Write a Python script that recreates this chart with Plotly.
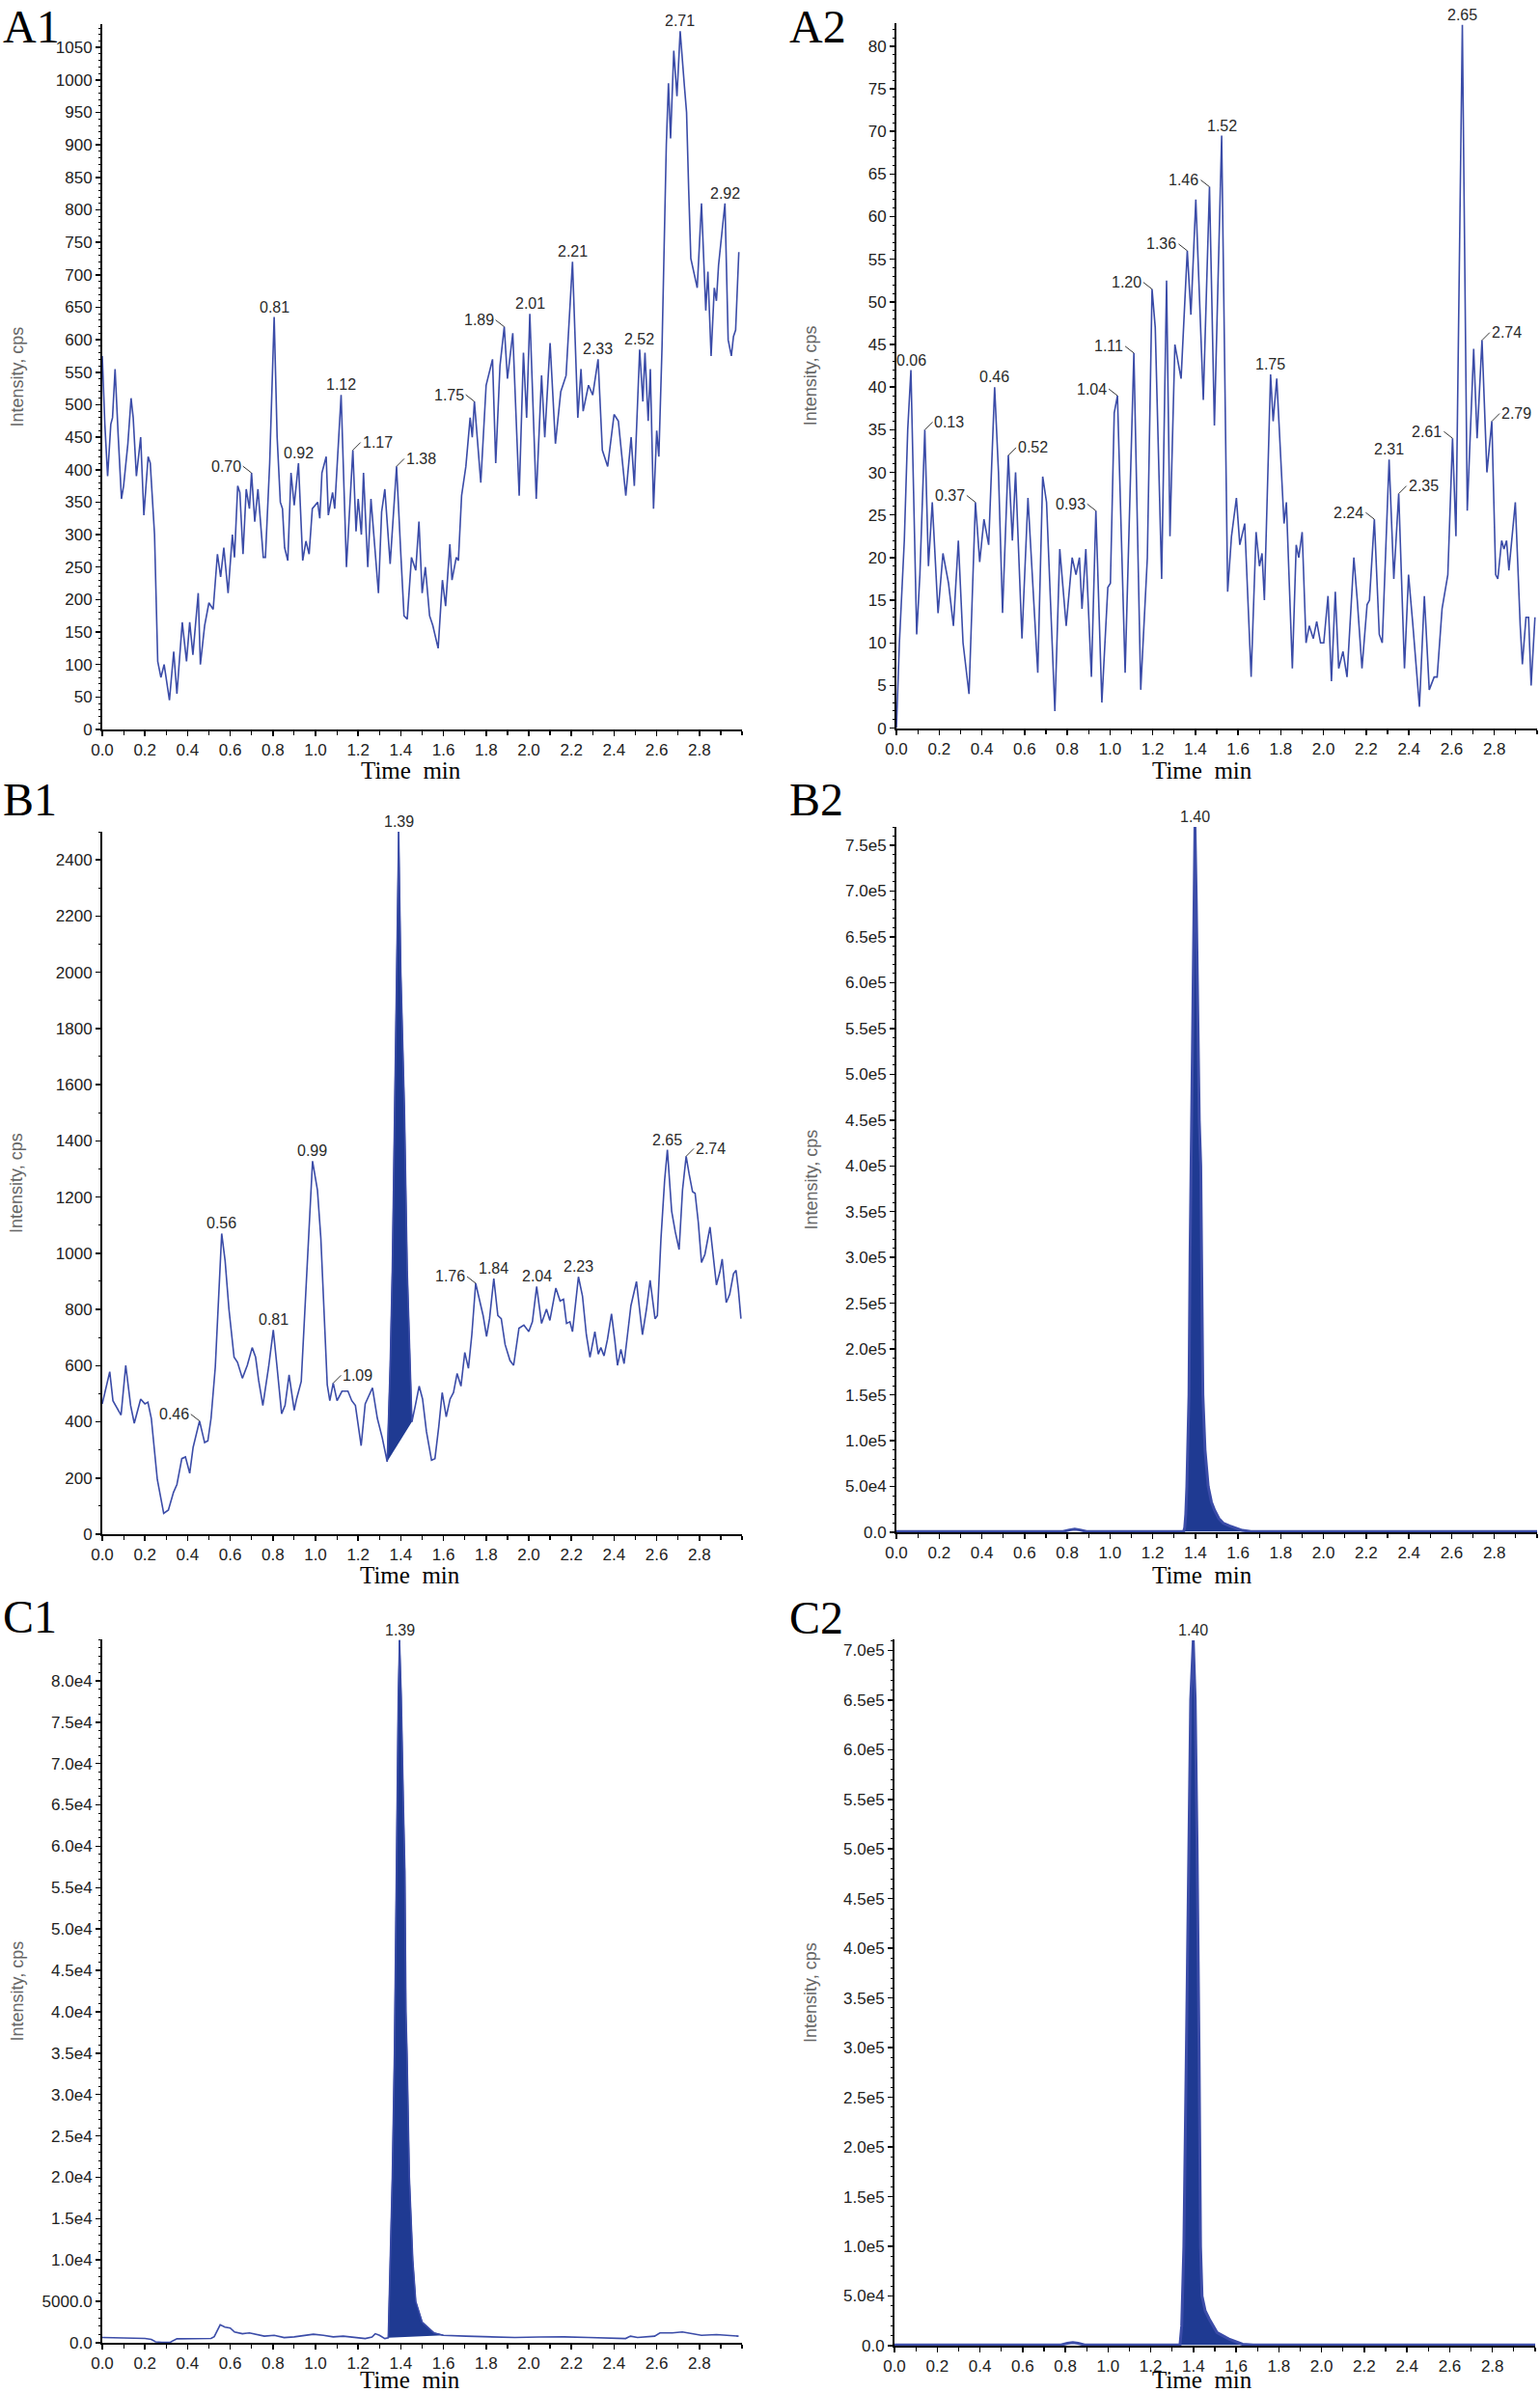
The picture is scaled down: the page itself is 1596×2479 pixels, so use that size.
import plotly.graph_objects as go

W, H = 1596, 2479

# ---------------- shared axis ticks ----------------
TIME_TICKS = [0.0, 0.2, 0.4, 0.6, 0.8, 1.0, 1.2, 1.4, 1.6, 1.8, 2.0, 2.2, 2.4, 2.6, 2.8]
TIME_TICK_TEXT = ["0.0", "0.2", "0.4", "0.6", "0.8", "1.0", "1.2", "1.4", "1.6", "1.8",
                  "2.0", "2.2", "2.4", "2.6", "2.8"]

A1_Y_TICKS = [0, 50, 100, 150, 200, 250, 300, 350, 400, 450, 500, 550, 600, 650, 700,
              750, 800, 850, 900, 950, 1000, 1050]
A1_Y_TEXT = ["0", "50", "100", "150", "200", "250", "300", "350", "400", "450", "500", "550",
             "600", "650", "700", "750", "800", "850", "900", "950", "1000", "1050"]
A2_Y_TICKS = [0, 5, 10, 15, 20, 25, 30, 35, 40, 45, 50, 55, 60, 65, 70, 75, 80]
A2_Y_TEXT = ["0", "5", "10", "15", "20", "25", "30", "35", "40", "45", "50", "55", "60",
             "65", "70", "75", "80"]
B1_Y_TICKS = [0, 200, 400, 600, 800, 1000, 1200, 1400, 1600, 1800, 2000, 2200, 2400]
B1_Y_TEXT = ["0", "200", "400", "600", "800", "1000", "1200", "1400", "1600", "1800",
             "2000", "2200", "2400"]
B2_Y_TICKS = [0, 5e4, 1e5, 1.5e5, 2e5, 2.5e5, 3e5, 3.5e5, 4e5, 4.5e5, 5e5, 5.5e5, 6e5,
              6.5e5, 7e5, 7.5e5]
B2_Y_TEXT = ["0.0", "5.0e4", "1.0e5", "1.5e5", "2.0e5", "2.5e5", "3.0e5", "3.5e5", "4.0e5",
             "4.5e5", "5.0e5", "5.5e5", "6.0e5", "6.5e5", "7.0e5", "7.5e5"]
C1_Y_TICKS = [0, 5000, 1e4, 1.5e4, 2e4, 2.5e4, 3e4, 3.5e4, 4e4, 4.5e4, 5e4, 5.5e4, 6e4,
              6.5e4, 7e4, 7.5e4, 8e4]
C1_Y_TEXT = ["0.0", "5000.0", "1.0e4", "1.5e4", "2.0e4", "2.5e4", "3.0e4", "3.5e4", "4.0e4",
             "4.5e4", "5.0e4", "5.5e4", "6.0e4", "6.5e4", "7.0e4", "7.5e4", "8.0e4"]
C2_Y_TICKS = [0, 5e4, 1e5, 1.5e5, 2e5, 2.5e5, 3e5, 3.5e5, 4e5, 4.5e5, 5e5, 5.5e5, 6e5,
              6.5e5, 7e5]
C2_Y_TEXT = ["0.0", "5.0e4", "1.0e5", "1.5e5", "2.0e5", "2.5e5", "3.0e5", "3.5e5", "4.0e5",
             "4.5e5", "5.0e5", "5.5e5", "6.0e5", "6.5e5", "7.0e5"]

# ---------------- A1 ----------------
A1_TIME = [0.000, 0.012, 0.025, 0.040, 0.048, 0.060, 0.075, 0.090, 0.100, 0.120, 0.135, 0.145,
           0.160, 0.180, 0.195, 0.215, 0.225, 0.245, 0.260, 0.275, 0.290, 0.315, 0.335, 0.350,
           0.375, 0.395, 0.410, 0.425, 0.450, 0.460, 0.480, 0.500, 0.520, 0.540, 0.555, 0.570,
           0.590, 0.610, 0.620, 0.635, 0.645, 0.660, 0.675, 0.690, 0.700, 0.715, 0.730, 0.755,
           0.765, 0.785, 0.806, 0.820, 0.835, 0.845, 0.855, 0.870, 0.885, 0.900, 0.920, 0.940,
           0.955, 0.970, 0.985, 1.010, 1.020, 1.030, 1.050, 1.060, 1.080, 1.090, 1.120, 1.145,
           1.175, 1.190, 1.200, 1.215, 1.225, 1.245, 1.260, 1.295, 1.310, 1.325, 1.350, 1.380,
           1.400, 1.415, 1.430, 1.450, 1.470, 1.485, 1.500, 1.515, 1.535, 1.550, 1.575, 1.595,
           1.610, 1.630, 1.640, 1.660, 1.670, 1.685, 1.705, 1.725, 1.735, 1.745, 1.775, 1.800,
           1.830, 1.845, 1.865, 1.885, 1.900, 1.925, 1.955, 1.975, 1.990, 2.005, 2.035, 2.060,
           2.075, 2.100, 2.125, 2.150, 2.175, 2.205, 2.230, 2.245, 2.255, 2.280, 2.300, 2.325,
           2.345, 2.370, 2.400, 2.420, 2.455, 2.480, 2.495, 2.520, 2.535, 2.545, 2.560, 2.570,
           2.585, 2.600, 2.610, 2.625, 2.645, 2.655, 2.665, 2.680, 2.695, 2.710, 2.730, 2.740,
           2.750, 2.760, 2.790, 2.810, 2.830, 2.840, 2.855, 2.870, 2.880, 2.890, 2.920, 2.935,
           2.950, 2.960, 2.970, 2.985]
A1_INT = [575, 470, 390, 470, 480, 555, 450, 355, 375, 440, 510, 480,
          390, 450, 330, 420, 410, 300, 105, 80, 100, 45, 120, 55,
          165, 105, 165, 115, 210, 100, 160, 195, 185, 270, 235, 280,
          210, 300, 265, 375, 365, 270, 370, 340, 395, 320, 370, 265,
          265, 410, 635, 450, 350, 340, 280, 260, 395, 345, 410, 260,
          290, 270, 340, 350, 325, 395, 420, 330, 365, 340, 515, 250,
          430, 305, 355, 300, 395, 250, 355, 210, 335, 370, 255, 405,
          270, 175, 170, 265, 245, 320, 210, 250, 175, 160, 125, 230,
          190, 285, 230, 265, 260, 360, 405, 480, 450, 505, 380, 530,
          570, 410, 560, 620, 540, 610, 360, 580, 480, 640, 355, 545,
          450, 595, 440, 520, 545, 720, 480, 555, 490, 530, 515, 570,
          430, 405, 485, 475, 360, 450, 375, 585, 505, 580, 475, 555,
          340, 460, 420, 590, 900, 995, 910, 1045, 975, 1075, 990, 950,
          830, 725, 680, 810, 645, 705, 575, 680, 660, 715, 810, 600,
          575, 605, 615, 735]
A1_LABELS = ["0.70", "0.81", "0.92", "1.12", "1.17", "1.38", "1.75", "1.89", "2.01", "2.21",
             "2.33", "2.52", "2.71", "2.92"]
A1_LABEL_T = [0.700, 0.806, 0.920, 1.120, 1.175, 1.380, 1.745, 1.885, 2.005, 2.205,
              2.325, 2.520, 2.710, 2.920]
A1_LABEL_V = [395, 635, 410, 515, 430, 405, 505, 620, 640, 720, 570, 585, 1075, 810]
A1_SIDES = ["L", "T", "T", "T", "R", "R", "L", "L", "T", "T", "T", "T", "T", "T"]

# ---------------- A2 ----------------
A2_TIME = [0.000, 0.014, 0.037, 0.053, 0.068, 0.095, 0.110, 0.133, 0.150, 0.168, 0.195, 0.218,
           0.244, 0.267, 0.290, 0.312, 0.340, 0.370, 0.390, 0.410, 0.432, 0.460, 0.478, 0.497,
           0.524, 0.543, 0.558, 0.588, 0.616, 0.640, 0.662, 0.685, 0.703, 0.742, 0.765, 0.795,
           0.823, 0.841, 0.857, 0.869, 0.887, 0.913, 0.934, 0.962, 0.990, 1.002, 1.020, 1.035,
           1.071, 1.112, 1.144, 1.175, 1.197, 1.212, 1.242, 1.265, 1.281, 1.304, 1.333, 1.362,
           1.379, 1.402, 1.437, 1.466, 1.489, 1.523, 1.551, 1.569, 1.592, 1.608, 1.631, 1.661,
           1.684, 1.700, 1.712, 1.723, 1.752, 1.764, 1.781, 1.803, 1.815, 1.826, 1.854, 1.872,
           1.884, 1.900, 1.918, 1.933, 1.952, 1.968, 1.986, 2.001, 2.021, 2.037, 2.055, 2.071,
           2.091, 2.110, 2.142, 2.158, 2.180, 2.204, 2.215, 2.238, 2.261, 2.275, 2.307, 2.329,
           2.352, 2.379, 2.398, 2.417, 2.449, 2.472, 2.495, 2.518, 2.532, 2.555, 2.582, 2.604,
           2.620, 2.650, 2.673, 2.703, 2.719, 2.742, 2.765, 2.788, 2.806, 2.816, 2.834, 2.845,
           2.857, 2.868, 2.898, 2.921, 2.931, 2.948, 2.960, 2.972, 2.990]
A2_INT = [0, 10, 22, 35, 42, 11, 18, 35, 19, 26.5, 13.5, 20.5,
          17, 12, 22, 10, 4, 26.5, 19.5, 24.5, 21.5, 40, 30, 13.5,
          32, 22, 30, 10.5, 27, 17, 6.5, 29.5, 26.5, 2, 21, 12,
          20, 18, 20, 14, 21, 6, 25.5, 3, 16.5, 17, 37, 39,
          6.5, 44, 4.5, 20, 51.5, 47, 17.5, 52.5, 22.5, 45, 41, 56,
          48.5, 62, 38.5, 63.5, 35.5, 69.5, 16, 22.5, 27, 21.5, 24, 6,
          23, 19, 20.5, 15, 41.5, 36, 41, 30, 24, 26.5, 7, 21.5,
          20, 23, 10, 12, 10.5, 12.5, 10, 10, 15.5, 5.5, 16, 7,
          9, 6, 20, 15, 7, 14.5, 15, 24.5, 11, 10, 31.5, 17.5,
          27.5, 7, 18, 12.5, 2.5, 15.5, 4.5, 6, 6, 14, 18, 34,
          22.5, 82.5, 25.5, 44.5, 34, 45.5, 30, 36, 18, 17.5, 22, 21,
          22, 18.5, 26.5, 12, 7.5, 13, 13, 5, 13]
A2_LABELS = ["0.06", "0.13", "0.37", "0.46", "0.52", "0.93", "1.04", "1.11", "1.20", "1.36",
             "1.46", "1.52", "1.75", "2.24", "2.31", "2.35", "2.61", "2.65", "2.74", "2.79"]
A2_LABEL_T = [0.068, 0.133, 0.370, 0.460, 0.524, 0.934, 1.035, 1.112, 1.197, 1.362,
              1.466, 1.523, 1.752, 2.238, 2.307, 2.352, 2.604, 2.650, 2.742, 2.788]
A2_LABEL_V = [42, 35, 26.5, 40, 32, 25.5, 39, 44, 51.5, 56,
              63.5, 69.5, 41.5, 24.5, 31.5, 27.5, 34, 82.5, 45.5, 36]
A2_SIDES = ["T", "R", "L", "T", "R", "L", "L", "L", "L", "L",
            "L", "T", "T", "L", "T", "R", "L", "T", "R", "R"]

# ---------------- B1 ----------------
B1_TIME = [0.000, 0.012, 0.035, 0.050, 0.088, 0.110, 0.133, 0.150, 0.180, 0.200, 0.214, 0.230,
           0.258, 0.288, 0.310, 0.334, 0.350, 0.373, 0.390, 0.410, 0.426, 0.456, 0.480, 0.495,
           0.510, 0.530, 0.546, 0.560, 0.576, 0.594, 0.618, 0.634, 0.657, 0.680, 0.703, 0.719,
           0.733, 0.753, 0.780, 0.802, 0.818, 0.841, 0.857, 0.876, 0.900, 0.911, 0.933, 0.956,
           0.986, 1.009, 1.025, 1.055, 1.067, 1.083, 1.101, 1.124, 1.152, 1.170, 1.187, 1.214,
           1.233, 1.267, 1.290, 1.313, 1.336, 1.350, 1.360, 1.371, 1.380, 1.390, 1.400, 1.417,
           1.430, 1.452, 1.468, 1.486, 1.502, 1.520, 1.544, 1.560, 1.578, 1.594, 1.613, 1.631,
           1.647, 1.664, 1.682, 1.700, 1.717, 1.733, 1.751, 1.770, 1.786, 1.802, 1.816, 1.836,
           1.855, 1.871, 1.889, 1.912, 1.929, 1.954, 1.977, 2.000, 2.017, 2.037, 2.060, 2.083,
           2.099, 2.127, 2.147, 2.163, 2.177, 2.193, 2.205, 2.233, 2.252, 2.270, 2.287, 2.310,
           2.326, 2.338, 2.353, 2.369, 2.388, 2.404, 2.416, 2.432, 2.447, 2.463, 2.479, 2.505,
           2.521, 2.533, 2.552, 2.569, 2.592, 2.603, 2.620, 2.637, 2.650, 2.670, 2.687, 2.705,
           2.721, 2.738, 2.752, 2.768, 2.780, 2.795, 2.810, 2.826, 2.850, 2.863, 2.880, 2.896,
           2.907, 2.926, 2.942, 2.960, 2.972, 2.983, 2.995]
B1_INT = [464, 504, 578, 475, 424, 601, 458, 395, 481, 464, 470, 412,
          195, 74, 86, 149, 177, 269, 275, 217, 309, 403, 326, 332,
          412, 595, 847, 1070, 973, 801, 630, 612, 555, 601, 664, 630,
          549, 458, 595, 727, 607, 429, 458, 567, 441, 481, 544, 904,
          1328, 1225, 1053, 532, 475, 538, 475, 509, 509, 475, 458, 315,
          464, 521, 412, 343, 258, 600, 940, 1510, 2000, 2500, 2000, 1510,
          940, 400, 458, 527, 481, 366, 263, 269, 383, 504, 418, 481,
          504, 572, 527, 647, 590, 710, 893, 836, 778, 704, 767, 910,
          778, 767, 675, 618, 601, 733, 744, 721, 756, 881, 750, 801,
          761, 876, 830, 836, 750, 756, 721, 916, 847, 710, 630, 721,
          641, 664, 635, 693, 784, 687, 601, 658, 607, 710, 813, 899,
          778, 710, 801, 904, 767, 778, 1053, 1259, 1368, 1150, 1076, 1013,
          1225, 1345, 1282, 1219, 1213, 1110, 967, 996, 1093, 996, 887, 933,
          979, 824, 853, 927, 939, 870, 767]
B1_PEAK_START, B1_PEAK_END = 1.336, 1.452
B1_LABELS = ["0.46", "0.56", "0.81", "0.99", "1.09", "1.39", "1.76", "1.84", "2.04", "2.23",
             "2.65", "2.74"]
B1_LABEL_T = [0.456, 0.560, 0.802, 0.986, 1.083, 1.390, 1.751, 1.836, 2.037, 2.233,
              2.650, 2.738]
B1_LABEL_V = [403, 1070, 727, 1328, 538, 2500, 893, 910, 881, 916, 1368, 1345]
B1_SIDES = ["L", "T", "T", "T", "R", "T", "L", "T", "T", "T", "T", "R"]

# ---------------- B2 ----------------
B2_TIME = [0.00, 0.50, 0.78, 0.81, 0.835, 0.86, 0.89, 1.20, 1.33,
           1.345, 1.350, 1.355, 1.360, 1.365, 1.370, 1.375, 1.380, 1.387, 1.392, 1.398,
           1.404, 1.410, 1.418, 1.425, 1.430, 1.435, 1.445, 1.460, 1.475, 1.490, 1.510,
           1.530, 1.560, 1.590, 1.620, 1.660, 1.700, 2.00, 2.40, 2.70, 3.00]
B2_INT = [700, 700, 800, 2500, 3500, 2500, 800, 700, 700,
          800, 5000, 20000, 50000, 100000, 150000, 300000, 400000, 600000, 690000, 770000,
          690000, 600000, 450000, 400000, 300000, 150000, 90000, 50000, 33000, 24000, 15000,
          10000, 7000, 4500, 2000, 900, 700, 700, 700, 700, 700]
B2_PEAK_START, B2_PEAK_END = 1.33, 1.70
B2_LABELS = ["1.40"]
B2_LABEL_T = [1.398]
B2_LABEL_V = [770000]
B2_SIDES = ["T"]

# ---------------- C1 ----------------
C1_TIME = [0.000, 0.100, 0.200, 0.230, 0.250, 0.280, 0.320, 0.350, 0.390, 0.450, 0.510, 0.525,
           0.540, 0.553, 0.575, 0.600, 0.620, 0.657, 0.690, 0.725, 0.760, 0.806, 0.853, 0.900,
           0.945, 0.990, 1.037, 1.083, 1.130, 1.175, 1.233, 1.265, 1.280, 1.300, 1.325, 1.341,
           1.345, 1.350, 1.360, 1.370, 1.376, 1.382, 1.388, 1.394, 1.402, 1.412, 1.419, 1.424,
           1.429, 1.440, 1.456, 1.470, 1.500, 1.555, 1.600, 1.705, 1.820, 1.935, 2.050, 2.165,
           2.280, 2.400, 2.454, 2.477, 2.510, 2.590, 2.615, 2.673, 2.720, 2.765, 2.810, 2.880,
           2.926, 2.984]
C1_INT = [640, 600, 520, 400, 120, 60, 80, 480, 500, 500, 520, 750,
          1500, 2180, 1900, 1790, 1310, 1100, 1190, 1030, 800, 900, 630, 714,
          900, 1030, 900, 714, 800, 714, 515, 700, 1100, 900, 515, 600,
          5000, 10000, 20000, 35000, 50000, 65000, 78000, 84900, 78000, 65000, 57000, 40000,
          35000, 20000, 10000, 5000, 2500, 1200, 900, 800, 714, 635, 700, 714,
          635, 600, 515, 800, 635, 800, 1190, 1190, 1310, 1100, 900, 990,
          900, 800]
C1_PEAK_START, C1_PEAK_END = 1.341, 1.600
C1_LABELS = ["1.39"]
C1_LABEL_T = [1.394]
C1_LABEL_V = [84900]
C1_SIDES = ["T"]

# ---------------- C2 ----------------
C2_TIME = [0.00, 0.50, 0.78, 0.81, 0.835, 0.86, 0.89, 1.20, 1.33,
           1.337, 1.345, 1.349, 1.355, 1.367, 1.372, 1.378, 1.387, 1.399, 1.408, 1.417,
           1.422, 1.426, 1.433, 1.440, 1.455, 1.474, 1.510, 1.566, 1.630, 1.680,
           2.00, 2.40, 2.70, 3.00]
C2_INT = [700, 700, 800, 2500, 3200, 2500, 800, 700, 700,
          800, 20000, 50000, 100000, 300000, 400000, 500000, 650000, 710000, 650000, 500000,
          400000, 300000, 100000, 50000, 35000, 26700, 13300, 6700, 1500, 700,
          700, 700, 700, 700]
C2_PEAK_START, C2_PEAK_END = 1.33, 1.68
C2_LABELS = ["1.40"]
C2_LABEL_T = [1.399]
C2_LABEL_V = [710000]
C2_SIDES = ["T"]

# ---------------- styling / geometry ----------------
LINE_COLOR = "#3b4ca8"
FILL_COLOR = "#1f3a92"
TEXT_COLOR = "#2b2b2b"
TICK_FONT = dict(family="Liberation Sans, Arial, sans-serif", size=17, color="#222222")
LABEL_FONT = dict(family="Liberation Sans, Arial, sans-serif", size=16, color=TEXT_COLOR)

PANELS = [
    dict(tag="A1", t=A1_TIME, v=A1_INT, yt=A1_Y_TICKS, ytt=A1_Y_TEXT, minor=10,
         lab=(A1_LABELS, A1_LABEL_T, A1_LABEL_V, A1_SIDES), peak=None,
         x0=106, x1=769, bot=756, top=25, ymax=1086, ytx=17, tagpos=(2, 0), tm=(426, 798), lw=1.6),
    dict(tag="A2", t=A2_TIME, v=A2_INT, yt=A2_Y_TICKS, ytt=A2_Y_TEXT, minor=1,
         lab=(A2_LABELS, A2_LABEL_T, A2_LABEL_V, A2_SIDES), peak=None,
         x0=929, x1=1593, bot=754.6, top=24, ymax=82.7, ytx=840, tagpos=(817, 0), tm=(1246, 798), lw=1.6),
    dict(tag="B1", t=B1_TIME, v=B1_INT, yt=B1_Y_TICKS, ytt=B1_Y_TEXT, minor=100,
         lab=(B1_LABELS, B1_LABEL_T, B1_LABEL_V, B1_SIDES), peak=(B1_PEAK_START, B1_PEAK_END),
         x0=106, x1=769, bot=1590, top=862, ymax=2500, ytx=17, tagpos=(2, 801), tm=(425, 1632), lw=1.6),
    dict(tag="B2", t=B2_TIME, v=B2_INT, yt=B2_Y_TICKS, ytt=B2_Y_TEXT, minor=1e4,
         lab=(B2_LABELS, B2_LABEL_T, B2_LABEL_V, B2_SIDES), peak=(B2_PEAK_START, B2_PEAK_END),
         x0=929, x1=1593, bot=1588, top=857, ymax=7.7e5, ytx=840, tagpos=(817, 801), tm=(1246, 1632), lw=3),
    dict(tag="C1", t=C1_TIME, v=C1_INT, yt=C1_Y_TICKS, ytt=C1_Y_TEXT, minor=1000,
         lab=(C1_LABELS, C1_LABEL_T, C1_LABEL_V, C1_SIDES), peak=(C1_PEAK_START, C1_PEAK_END),
         x0=106, x1=769, bot=2428, top=1699, ymax=8.5e4, ytx=17, tagpos=(2, 1648), tm=(425, 2466), lw=1.6),
    dict(tag="C2", t=C2_TIME, v=C2_INT, yt=C2_Y_TICKS, ytt=C2_Y_TEXT, minor=1e4,
         lab=(C2_LABELS, C2_LABEL_T, C2_LABEL_V, C2_SIDES), peak=(C2_PEAK_START, C2_PEAK_END),
         x0=927, x1=1591, bot=2431, top=1699, ymax=7.11e5, ytx=840, tagpos=(817, 1649), tm=(1246, 2466), lw=3),
]

fig = go.Figure()
annotations = []
layout = {}

for i, p in enumerate(PANELS):
    n = "" if i == 0 else str(i + 1)
    xa, ya = "x" + n, "y" + n
    # peak fill polygon (integration area between baseline and trace)
    if p["peak"] is not None:
        s, e = p["peak"]
        pt = [t for t in p["t"] if s <= t <= e]
        pv = [v for t, v in zip(p["t"], p["v"]) if s <= t <= e]
        fig.add_trace(go.Scatter(x=pt, y=pv, mode="lines", fill="toself",
                                 fillcolor=FILL_COLOR, line=dict(color=FILL_COLOR, width=1),
                                 xaxis=xa, yaxis=ya, showlegend=False, hoverinfo="skip"))
    fig.add_trace(go.Scatter(x=p["t"], y=p["v"], mode="lines",
                             line=dict(color=LINE_COLOR, width=p["lw"]),
                             xaxis=xa, yaxis=ya, showlegend=False, cliponaxis=False))

    axis_common = dict(showline=True, linecolor="black", linewidth=2, showgrid=False,
                       zeroline=False, ticks="outside", ticklen=5, tickwidth=1.5,
                       tickcolor="black", tickfont=TICK_FONT, fixedrange=True,
                       automargin=False)
    layout["xaxis" + n] = dict(axis_common, anchor=ya, domain=[p["x0"] / W, p["x1"] / W],
                               range=[0, 3.0], tickmode="array", tickvals=TIME_TICKS,
                               ticktext=TIME_TICK_TEXT,
                               minor=dict(tick0=0, dtick=0.1, ticks="outside", ticklen=4,
                                          tickwidth=1.2, tickcolor="black"))
    layout["yaxis" + n] = dict(axis_common, anchor=xa,
                               domain=[1 - p["bot"] / H, 1 - p["top"] / H],
                               range=[0, p["ymax"]], tickmode="array", tickvals=p["yt"],
                               ticktext=p["ytt"], ticklen=5,
                               minor=dict(tick0=0, dtick=p["minor"], ticks="outside",
                                          ticklen=2.5, tickwidth=1, tickcolor="black"))

    # peak labels
    labs, lt, lv, sides = p["lab"]
    for txt, t, v, sd in zip(labs, lt, lv, sides):
        if sd == "T":
            annotations.append(dict(x=t, y=v, xref=xa, yref=ya, text=txt, showarrow=False,
                                    xanchor="center", yanchor="bottom", yshift=0,
                                    font=LABEL_FONT))
        elif sd == "L":
            annotations.append(dict(x=t, y=v, xref=xa, yref=ya, text=txt, showarrow=True,
                                    arrowhead=0, arrowwidth=1, arrowcolor="#333333",
                                    ax=-9, ay=-7, xanchor="right", yanchor="middle",
                                    standoff=0, font=LABEL_FONT))
        else:
            annotations.append(dict(x=t, y=v, xref=xa, yref=ya, text=txt, showarrow=True,
                                    arrowhead=0, arrowwidth=1, arrowcolor="#333333",
                                    ax=8, ay=-8, xanchor="left", yanchor="middle",
                                    standoff=0, font=LABEL_FONT))

    # y-axis title
    annotations.append(dict(x=p["ytx"] / W, y=1 - (p["top"] + p["bot"]) / 2 / H,
                            xref="paper", yref="paper", text="Intensity, cps",
                            textangle=-90, showarrow=False, xanchor="center", yanchor="middle",
                            font=dict(family="Liberation Sans, Arial, sans-serif", size=18,
                                      color="#666666")))
    # x-axis title
    annotations.append(dict(x=p["tm"][0] / W, y=1 - p["tm"][1] / H, xref="paper", yref="paper",
                            text="Time\u00a0\u00a0min", showarrow=False, xanchor="center",
                            yanchor="middle",
                            font=dict(family="Liberation Serif, Times New Roman, serif",
                                      size=25, color="black")))
    # panel tag (top of text box)
    annotations.append(dict(x=p["tagpos"][0] / W, y=1 - p["tagpos"][1] / H, xref="paper",
                            yref="paper", text=p["tag"], showarrow=False, xanchor="left",
                            yanchor="top", borderpad=0,
                            font=dict(family="Liberation Serif, Times New Roman, serif",
                                      size=48, color="black")))

fig.update_layout(**layout)
fig.update_layout(width=W, height=H,
                  margin=dict(l=0, r=0, t=0, b=0, pad=0, autoexpand=False),
                  paper_bgcolor="white", plot_bgcolor="white", showlegend=False,
                  annotations=annotations)
fig.write_html("out.html", config={"displayModeBar": False, "staticPlot": True},
               post_script="document.body.style.margin='0px';document.body.style.overflow='hidden';")
